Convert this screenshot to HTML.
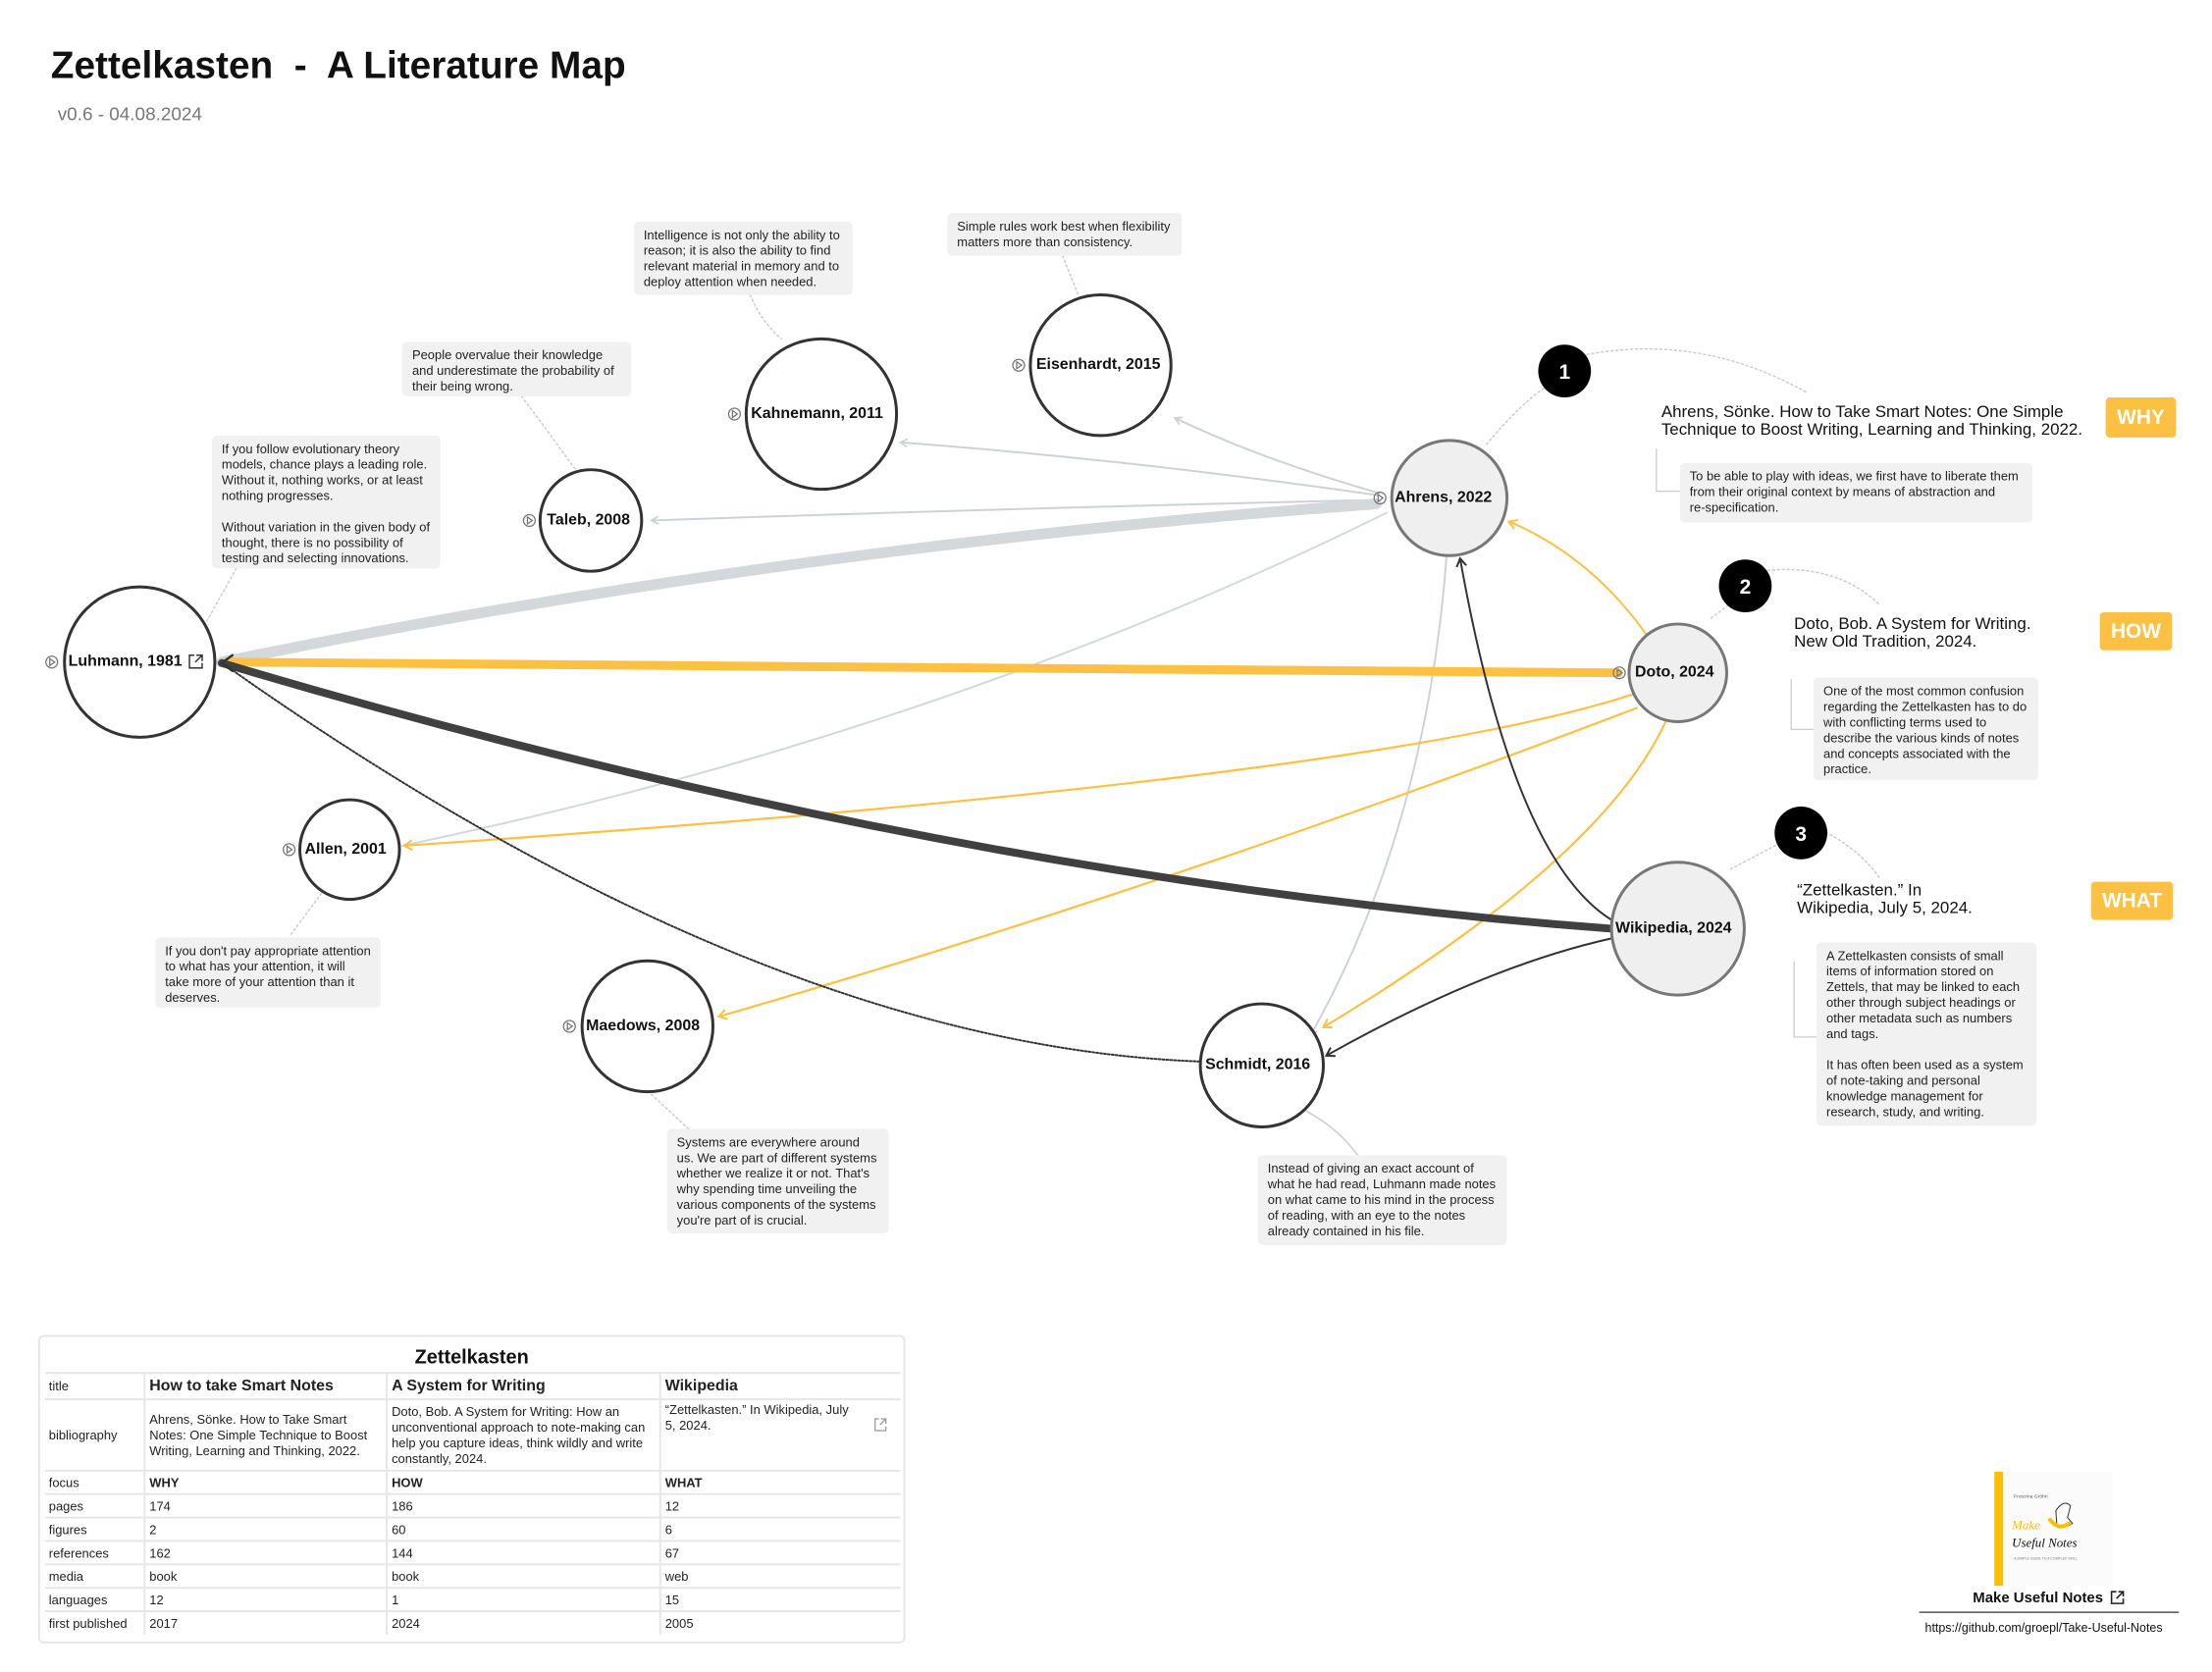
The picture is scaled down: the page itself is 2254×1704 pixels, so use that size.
<!DOCTYPE html>
<html><head><meta charset="utf-8">
<style>
html,body{margin:0;padding:0;background:#fff;}
body{width:2254px;height:1704px;position:relative;overflow:hidden;font-family:"Liberation Sans",Arial,sans-serif;color:#111;}
#w{position:absolute;left:0;top:0;width:2254px;height:1704px;transform:scale(0.9952);transform-origin:0 0;}
.a{position:absolute;}
.q{position:absolute;background:#f1f1f1;border-radius:5px;font-size:13px;line-height:16px;padding:6px 10px;box-sizing:border-box;color:#222;}
.lbl{position:absolute;font-weight:bold;font-size:16px;white-space:nowrap;color:#111;}
.ref{position:absolute;font-size:17px;line-height:18px;color:#111;}
.tag{position:absolute;background:#fcc043;color:#fff;font-weight:bold;font-size:21px;border-radius:4px;text-align:center;}
table{border-collapse:collapse;font-size:13px;}
td{border-top:2px solid #e6e6e6;padding:2px 4px;vertical-align:middle;color:#222;}
td+td{border-left:2px solid #e6e6e6;}
</style></head><body><div id="w">

<svg class="a" style="left:0;top:0" width="2254" height="1704" viewBox="0 0 2254 1704">
<defs>
<marker id="ag" markerWidth="10" markerHeight="10" refX="8" refY="5" orient="auto" markerUnits="userSpaceOnUse"><path d="M1,1 L8,5 L1,9" fill="none" stroke="#cdd3d5" stroke-width="1.8"/></marker>
<marker id="ay" markerWidth="12" markerHeight="12" refX="9" refY="6" orient="auto" markerUnits="userSpaceOnUse"><path d="M1,1 L9,6 L1,11" fill="none" stroke="#fcc043" stroke-width="2"/></marker>
<marker id="ad" markerWidth="12" markerHeight="12" refX="9" refY="6" orient="auto" markerUnits="userSpaceOnUse"><path d="M1,1 L9,6 L1,11" fill="none" stroke="#333" stroke-width="2"/></marker>
</defs>
<g fill="none" stroke-linecap="round">
<g stroke="#ccc" stroke-width="1.5" stroke-dasharray="2 3">
<path d="M242,582 L205,648"/>
<path d="M534,406 Q560,440 590,482"/>
<path d="M768,302 Q780,330 800,347"/>
<path d="M1088,262 L1104,302"/>
<path d="M329,915 L297,958"/>
<path d="M705,1156 L663,1117"/>
<path d="M1522,455 Q1560,410 1585,395"/>
<path d="M1620,364 Q1740,340 1850,402"/>
<path d="M1752,633 L1772,618"/>
<path d="M1800,585 Q1880,575 1925,620"/>
<path d="M1772,890 L1825,862"/>
<path d="M1865,850 Q1905,870 1925,900"/>
</g>
<path d="M1336,1137 Q1370,1155 1390,1183" stroke="#ccc" stroke-width="1.5"/>
<g stroke="#ccc" stroke-width="1.3">
<path d="M1696,460 L1696,503 L1720,503"/>
<path d="M1834,696 L1834,747 L1857,747"/>
<path d="M1837,985 L1837,1062 L1860,1062"/>
</g>
<path d="M1412,505 Q1290,470 1203,428" stroke="#cdd3d5" stroke-width="2" marker-end="url(#ag)"/>
<path d="M1410,507 Q1150,470 922,453" stroke="#cdd3d5" stroke-width="2" marker-end="url(#ag)"/>
<path d="M1409,512 Q1050,520 667,533" stroke="#cdd3d5" stroke-width="2" marker-end="url(#ag)"/>
<path d="M1409,516 Q800,560 227,678" stroke="#d3d8da" stroke-width="11"/>
<path d="M1420,525 Q962,751 412,866" stroke="#d3d8da" stroke-width="2"/>
<path d="M1481,571 Q1460,850 1342,1060" stroke="#cdd3d5" stroke-width="2" marker-end="url(#ag)"/>
<path d="M1657,689 Q900,684 230,678" stroke="#fcc043" stroke-width="9"/>
<path d="M1688,653 Q1630,570 1545,534" stroke="#fcc043" stroke-width="2" marker-end="url(#ay)"/>
<path d="M1672,711 Q1400,800 414,866" stroke="#fcc043" stroke-width="2.2" marker-end="url(#ay)"/>
<path d="M1676,725 Q1193,909 736,1041" stroke="#fcc043" stroke-width="2.2" marker-end="url(#ay)"/>
<path d="M1705,740 Q1640,880 1355,1052" stroke="#fcc043" stroke-width="2.2" marker-end="url(#ay)"/>
<path d="M1650,951 Q969,900 227,679" stroke="#404040" stroke-width="8"/>
<path d="M1650,942 Q1550,880 1495,572" stroke="#333" stroke-width="2" marker-end="url(#ad)"/>
<path d="M1650,961 Q1520,990 1358,1081" stroke="#333" stroke-width="2" marker-end="url(#ad)"/>
<path d="M1228,1087 Q780,1070 229,680" stroke="#333" stroke-width="2" stroke-dasharray="2 2"/>
<path d="M238,671 L227,679 L238,687" stroke="#333" stroke-width="2.5"/>
</g>
<g stroke-width="3">
<circle cx="143" cy="678" r="77" fill="#fff" stroke="#333"/>
<circle cx="358" cy="870" r="51" fill="#fff" stroke="#333"/>
<circle cx="605" cy="533" r="52" fill="#fff" stroke="#333"/>
<circle cx="841" cy="424" r="77" fill="#fff" stroke="#333"/>
<circle cx="1127" cy="374" r="72" fill="#fff" stroke="#333"/>
<circle cx="663" cy="1051" r="67" fill="#fff" stroke="#333"/>
<circle cx="1292" cy="1091" r="63" fill="#fff" stroke="#333"/>
<circle cx="1484" cy="510" r="59" fill="#efefef" stroke="#777"/>
<circle cx="1718" cy="689" r="50" fill="#efefef" stroke="#777"/>
<circle cx="1718" cy="951" r="68" fill="#efefef" stroke="#777"/>
</g>
<g fill="#000">
<circle cx="1602" cy="380" r="27"/>
<circle cx="1787" cy="600" r="27"/>
<circle cx="1844" cy="853" r="27"/>
</g>
<g fill="#fff" font-weight="bold" font-size="21" text-anchor="middle" font-family="Liberation Sans, sans-serif">
<text x="1602" y="388">1</text><text x="1787" y="608">2</text><text x="1844" y="861">3</text>
</g>
<g fill="none" stroke="#777" stroke-width="1.3">
<g transform="translate(53,678)"><circle r="6"/><path d="M-2,-3.5 L3,0 L-2,3.5 Z"/></g>
<g transform="translate(296,870)"><circle r="6"/><path d="M-2,-3.5 L3,0 L-2,3.5 Z"/></g>
<g transform="translate(542,533)"><circle r="6"/><path d="M-2,-3.5 L3,0 L-2,3.5 Z"/></g>
<g transform="translate(752,424)"><circle r="6"/><path d="M-2,-3.5 L3,0 L-2,3.5 Z"/></g>
<g transform="translate(1043,374)"><circle r="6"/><path d="M-2,-3.5 L3,0 L-2,3.5 Z"/></g>
<g transform="translate(583,1051)"><circle r="6"/><path d="M-2,-3.5 L3,0 L-2,3.5 Z"/></g>
<g transform="translate(1413,510)"><circle r="6"/><path d="M-2,-3.5 L3,0 L-2,3.5 Z"/></g>
<g transform="translate(1658,689)"><circle r="6"/><path d="M-2,-3.5 L3,0 L-2,3.5 Z"/></g>
</g>
<g fill="none" stroke="#333" stroke-width="1.5" transform="translate(193,670)">
<path d="M6,1 L1,1 L1,14 L14,14 L14,9"/><path d="M8,1 L14,1 L14,7 M14,1 L7,8"/>
</g>
<g fill="none" stroke="#999" stroke-width="1.3" transform="translate(895,1452)">
<path d="M5,1 L1,1 L1,13 L12,13 L12,9"/><path d="M7,1 L12,1 L12,6 M12,1 L6,7"/>
</g>
<rect x="2042" y="1507" width="9" height="117" fill="#fcc000"/>
<rect x="2051" y="1507" width="112" height="117" fill="#fbfbfb"/>
<text x="2062" y="1534" font-size="5" fill="#555" font-family="Liberation Sans, sans-serif">Fronzina Gröhn</text>
<text x="2060" y="1566" font-size="13" fill="#fcc000" font-family="Liberation Serif, serif" font-style="italic">Make</text>
<text x="2060" y="1584" font-size="13" fill="#111" font-family="Liberation Serif, serif" font-style="italic">Useful Notes</text>
<text x="2062" y="1597" font-size="3.5" fill="#777" font-family="Liberation Sans, sans-serif">A SIMPLE GUIDE TO A COMPLEX SKILL</text>
<path d="M2105,1547 q8,-12 15,-5 l-3,12 l5,6 q-8,6 -16,2 z" fill="none" stroke="#333" stroke-width="1"/>
<path d="M2098,1555 q10,14 22,4" fill="none" stroke="#fcc000" stroke-width="4"/>
<line x1="1965" y1="1651" x2="2231" y2="1651" stroke="#555" stroke-width="1.5"/>
<g fill="none" stroke="#222" stroke-width="1.6" transform="translate(2161,1629)">
<path d="M6,1 L1,1 L1,13 L13,13 L13,8"/><path d="M8,1 L13,1 L13,6 M13,1 L6,8"/>
</g>
</svg>

<div class="a" style="left:52px;top:46px;font-size:39px;font-weight:bold;white-space:pre;color:#111;">Zettelkasten  -  A Literature Map</div>
<div class="a" style="left:59px;top:107px;font-size:19px;color:#777;">v0.6 - 04.08.2024</div>

<div class="lbl" style="left:70px;top:669px;">Luhmann, 1981</div>
<div class="lbl" style="left:312px;top:861px;">Allen, 2001</div>
<div class="lbl" style="left:560px;top:524px;">Taleb, 2008</div>
<div class="lbl" style="left:769px;top:415px;">Kahnemann, 2011</div>
<div class="lbl" style="left:1061px;top:365px;">Eisenhardt, 2015</div>
<div class="lbl" style="left:600px;top:1042px;">Maedows, 2008</div>
<div class="lbl" style="left:1234px;top:1082px;">Schmidt, 2016</div>
<div class="lbl" style="left:1428px;top:501px;">Ahrens, 2022</div>
<div class="lbl" style="left:1674px;top:680px;">Doto, 2024</div>
<div class="lbl" style="left:1654px;top:942px;">Wikipedia, 2024</div>

<div class="q" style="left:649px;top:227px;width:224px;height:75px;">Intelligence is not only the ability to reason; it is also the ability to find relevant material in memory and to deploy attention when needed.</div>
<div class="q" style="left:970px;top:218px;width:240px;height:44px;">Simple rules work best when flexibility matters more than consistency.</div>
<div class="q" style="left:412px;top:350px;width:234px;height:56px;">People overvalue their knowledge and underestimate the probability of their being wrong.</div>
<div class="q" style="left:217px;top:446px;width:234px;height:136px;">If you follow evolutionary theory models, chance plays a leading role. Without it, nothing works, or at least nothing progresses.<br><br>Without variation in the given body of thought, there is no possibility of testing and selecting innovations.</div>
<div class="q" style="left:159px;top:960px;width:231px;height:72px;">If you don't pay appropriate attention to what has your attention, it will take more of your attention than it deserves.</div>
<div class="q" style="left:683px;top:1156px;width:227px;height:107px;">Systems are everywhere around us. We are part of different systems whether we realize it or not. That's why spending time unveiling the various components of the systems you're part of is crucial.</div>
<div class="q" style="left:1288px;top:1183px;width:255px;height:92px;">Instead of giving an exact account of what he had read, Luhmann made notes on what came to his mind in the process of reading, with an eye to the notes already contained in his file.</div>

<div class="ref" style="left:1701px;top:413px;white-space:nowrap;">Ahrens, Sönke. How to Take Smart Notes: One Simple<br>Technique to Boost Writing, Learning and Thinking, 2022.</div>
<div class="q" style="left:1720px;top:474px;width:361px;height:61px;">To be able to play with ideas, we first have to liberate them from their original context by means of abstraction and re&#8209;specification.</div>
<div class="ref" style="left:1837px;top:630px;white-space:nowrap;">Doto, Bob. A System for Writing.<br>New Old Tradition, 2024.</div>
<div class="q" style="left:1857px;top:694px;width:230px;height:105px;">One of the most common confusion regarding the Zettelkasten has to do with conflicting terms used to describe the various kinds of notes and concepts associated with the practice.</div>
<div class="ref" style="left:1840px;top:903px;white-space:nowrap;">“Zettelkasten.” In<br>Wikipedia, July 5, 2024.</div>
<div class="q" style="left:1860px;top:965px;width:225px;height:188px;">A Zettelkasten consists of small items of information stored on Zettels, that may be linked to each other through subject headings or other metadata such as numbers and tags.<br><br>It has often been used as a system of note-taking and personal knowledge management for research, study, and writing.</div>

<div class="tag" style="left:2156px;top:407px;width:72px;height:41px;line-height:41px;">WHY</div>
<div class="tag" style="left:2150px;top:627px;width:74px;height:39px;line-height:39px;">HOW</div>
<div class="tag" style="left:2141px;top:903px;width:84px;height:39px;line-height:39px;">WHAT</div>

<div class="a" style="left:39px;top:1367px;width:888px;height:316px;border:2px solid #e6e6e6;border-radius:6px;box-sizing:border-box;">
<div style="text-align:center;font-weight:bold;font-size:20px;margin-top:10px;height:26px;">Zettelkasten</div>
<table style="position:absolute;left:5px;top:36px;width:876px;">
<colgroup><col style="width:102px"><col style="width:248px"><col style="width:280px"><col></colgroup>
<tr style="height:27px"><td>title</td><td style="font-weight:bold;font-size:16px">How to take Smart Notes</td><td style="font-weight:bold;font-size:16px">A System for Writing</td><td style="font-weight:bold;font-size:16px">Wikipedia</td></tr>
<tr style="height:73px"><td>bibliography</td><td style="line-height:16px">Ahrens, Sönke. How to Take Smart Notes: One Simple Technique to Boost Writing, Learning and Thinking, 2022.</td><td style="line-height:16px">Doto, Bob. A System for Writing: How an unconventional approach to note-making can help you capture ideas, think wildly and write constantly, 2024.</td><td style="vertical-align:top;line-height:16px;padding-right:40px">“Zettelkasten.” In Wikipedia, July 5, 2024.</td></tr>
<tr style="height:24px"><td>focus</td><td style="font-weight:bold">WHY</td><td style="font-weight:bold">HOW</td><td style="font-weight:bold">WHAT</td></tr>
<tr style="height:24px"><td>pages</td><td>174</td><td>186</td><td>12</td></tr>
<tr style="height:24px"><td>figures</td><td>2</td><td>60</td><td>6</td></tr>
<tr style="height:24px"><td>references</td><td>162</td><td>144</td><td>67</td></tr>
<tr style="height:24px"><td>media</td><td>book</td><td>book</td><td>web</td></tr>
<tr style="height:24px"><td>languages</td><td>12</td><td>1</td><td>15</td></tr>
<tr style="height:24px"><td>first published</td><td>2017</td><td>2024</td><td>2005</td></tr>
</table>
</div>

<div class="a" style="left:2020px;top:1628px;font-weight:bold;font-size:15px;">Make Useful Notes</div>
<div class="a" style="left:1971px;top:1660px;font-size:12.5px;color:#111;">https://github.com/groepl/Take-Useful-Notes</div>
</div></body></html>
